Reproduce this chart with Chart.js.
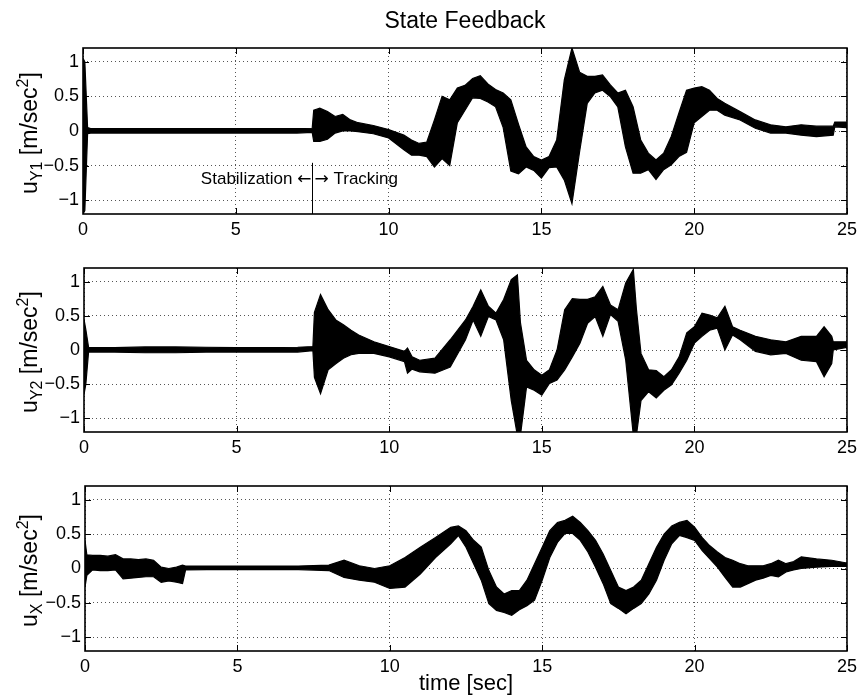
<!DOCTYPE html>
<html>
<head>
<meta charset="utf-8">
<script src="https://cdn.jsdelivr.net/npm/chart.js@4.4.0/dist/chart.umd.min.js"></script>
<style>
  html, body { margin: 0; padding: 0; background: #fff; }
  #wrap { position: relative; width: 862px; height: 699px; overflow: hidden; }
  canvas { position: absolute; left: 0; }
</style>
</head>
<body>
<div id="wrap">
  <canvas id="c1" width="862" height="240" style="top:0px"></canvas>
  <canvas id="c2" width="862" height="220" style="top:240px"></canvas>
  <canvas id="c3" width="862" height="239" style="top:460px"></canvas>
</div>
<script>
// ticks
const xTicks = [0, 5, 10, 15, 20, 25];
const yTicks = [-1, -0.5, 0, 0.5, 1];

// u_Y1 : upper / lower edge of the noisy trace
const tY1 = [0, 0.06, 0.15, 0.25, 1, 2, 3, 4, 5, 6, 7, 7.5, 7.55, 7.75, 8, 8.25, 8.5, 8.75, 9, 9.5, 10,
  10.5, 10.75, 11, 11.25, 11.5, 11.75, 12, 12.25, 12.5, 12.75, 13, 13.25, 13.5, 13.75, 14, 14.25, 14.5, 14.75,
  15, 15.25, 15.5, 15.75, 16, 16.25, 16.5, 16.75, 17, 17.25, 17.5, 17.75, 18, 18.25, 18.5, 18.75, 19, 19.25,
  19.5, 19.75, 20, 20.25, 20.5, 20.75, 21, 21.5, 22, 22.5, 23, 23.5, 24, 24.55, 24.6, 25];
const upY1 = [1.05, 1.0, 0.05, 0.035, 0.035, 0.035, 0.035, 0.035, 0.035, 0.035, 0.035, 0.04, 0.3, 0.33, 0.28, 0.21, 0.24, 0.16, 0.12, 0.08, 0.02,
  -0.06, -0.13, -0.18, -0.16, 0.16, 0.5, 0.45, 0.62, 0.66, 0.76, 0.8, 0.68, 0.6, 0.55, 0.45, 0.1, -0.23, -0.37,
  -0.42, -0.37, -0.13, 0.74, 1.2, 0.85, 0.79, 0.79, 0.81, 0.67, 0.55, 0.59, 0.35, -0.13, -0.32, -0.42, -0.32, -0.08,
  0.26, 0.59, 0.62, 0.64, 0.59, 0.47, 0.4, 0.28, 0.16, 0.09, 0.06, 0.09, 0.07, 0.07, 0.13, 0.13];
const loY1 = [-1.2, -1.15, -0.04, -0.03, -0.03, -0.03, -0.03, -0.03, -0.03, -0.03, -0.03, -0.02, -0.15, -0.15, -0.12, -0.03, 0.0, 0.0, -0.01, -0.04, -0.1,
  -0.27, -0.35, -0.35, -0.37, -0.52, -0.4, -0.5, 0.12, 0.3, 0.48, 0.47, 0.42, 0.35, 0.05, -0.58, -0.62, -0.52, -0.57,
  -0.68, -0.53, -0.52, -0.71, -1.05, -0.3, 0.4, 0.55, 0.59, 0.5, 0.35, -0.23, -0.61, -0.61, -0.56, -0.7, -0.56, -0.49,
  -0.37, -0.31, 0.12, 0.21, 0.3, 0.3, 0.23, 0.16, 0.04, -0.03, -0.03, -0.06, -0.08, -0.06, 0.06, 0.05];

// u_Y2
const tY2 = [0, 0.06, 0.15, 0.25, 1, 2, 3, 4, 5, 6, 7, 7.5, 7.55, 7.75, 8, 8.25, 8.5, 8.75, 9, 9.5, 10,
  10.5, 10.6, 10.75, 11, 11.5, 12, 12.5, 12.75, 13, 13.25, 13.5, 13.75, 14, 14.2, 14.3, 14.5, 14.75,
  15, 15.25, 15.5, 15.75, 16, 16.25, 16.5, 16.75, 17, 17.25, 17.5, 17.75, 18, 18.1, 18.25, 18.5, 18.75, 19, 19.25,
  19.5, 19.75, 20, 20.25, 20.5, 20.75, 21, 21.25, 21.5, 22, 22.5, 23, 23.5, 24, 24.25, 24.5, 24.55, 25];
const upY2 = [0.45, 0.3, 0.04, 0.035, 0.035, 0.045, 0.045, 0.04, 0.035, 0.035, 0.04, 0.05, 0.55, 0.81, 0.59, 0.44, 0.37, 0.29, 0.22, 0.12, 0.05,
  -0.02, 0.03, -0.1, -0.15, -0.12, 0.15, 0.44, 0.64, 0.88, 0.64, 0.54, 0.74, 1.03, 1.1, 0.4, -0.15, -0.29,
  -0.37, -0.29, 0.0, 0.59, 0.75, 0.74, 0.74, 0.78, 0.93, 0.66, 0.59, 0.98, 1.18, 0.6, -0.05, -0.29, -0.3, -0.39, -0.29,
  -0.1, 0.25, 0.34, 0.54, 0.51, 0.47, 0.64, 0.34, 0.29, 0.2, 0.15, 0.12, 0.2, 0.2, 0.34, 0.2, 0.12, 0.12];
const loY2 = [-0.65, -0.5, -0.03, -0.03, -0.03, -0.04, -0.04, -0.03, -0.03, -0.03, -0.03, -0.01, -0.4, -0.64, -0.29, -0.2, -0.12, -0.07, -0.05, -0.05, -0.1,
  -0.17, -0.34, -0.28, -0.32, -0.34, -0.25, 0.15, 0.44, 0.2, 0.49, 0.44, 0.15, -0.74, -1.25, -1.25, -0.54, -0.59,
  -0.66, -0.49, -0.44, -0.29, -0.1, 0.1, 0.39, 0.49, 0.2, 0.52, 0.42, -0.15, -1.25, -1.25, -0.74, -0.61, -0.7, -0.59, -0.51,
  -0.34, -0.15, 0.1, 0.2, 0.29, 0.32, 0.0, 0.22, 0.15, -0.02, -0.07, -0.05, -0.15, -0.17, -0.39, -0.2, 0.0, 0.04];

// u_X
const tX = [0, 0.06, 0.25, 0.5, 0.75, 1, 1.25, 1.5, 1.75, 2, 2.25, 2.5, 2.75, 3, 3.2, 3.3, 4, 5, 6, 7,
  8, 8.5, 9, 9.5, 10, 10.5, 11, 11.5, 12, 12.25, 12.5, 12.75, 13, 13.25, 13.5, 13.75, 14, 14.25, 14.5, 14.75,
  15, 15.25, 15.5, 15.75, 16, 16.25, 16.5, 16.75, 17, 17.25, 17.5, 17.75, 18, 18.25, 18.5, 18.75, 19, 19.25,
  19.5, 19.75, 20, 20.25, 20.5, 20.75, 21, 21.25, 21.5, 21.75, 22, 22.25, 22.5, 22.75, 23, 23.25, 23.5, 24, 24.5, 25];
const upX = [0.41, 0.2, 0.19, 0.19, 0.18, 0.2, 0.14, 0.14, 0.13, 0.14, 0.12, 0.02, 0.0, 0.02, 0.05, 0.035, 0.035, 0.035, 0.035, 0.035,
  0.05, 0.12, 0.04, 0.0, 0.04, 0.16, 0.31, 0.45, 0.6, 0.62, 0.55, 0.41, 0.31, -0.03, -0.27, -0.37, -0.32, -0.32, -0.17, 0.07,
  0.31, 0.55, 0.67, 0.7, 0.76, 0.67, 0.55, 0.41, 0.21, -0.03, -0.27, -0.32, -0.27, -0.17, 0.07, 0.31, 0.5, 0.62,
  0.67, 0.7, 0.6, 0.45, 0.33, 0.24, 0.16, 0.12, 0.07, 0.04, 0.04, 0.04, 0.07, 0.12, 0.07, 0.1, 0.17, 0.14, 0.12, 0.08];
const loX = [-0.27, -0.1, -0.02, -0.03, -0.03, -0.02, -0.15, -0.14, -0.13, -0.12, -0.12, -0.2, -0.18, -0.2, -0.22, -0.02, -0.015, -0.015, -0.015, -0.015,
  -0.03, -0.13, -0.17, -0.2, -0.29, -0.27, -0.08, 0.16, 0.36, 0.48, 0.31, 0.07, -0.17, -0.51, -0.61, -0.64, -0.68, -0.6, -0.54, -0.46,
  -0.17, 0.16, 0.38, 0.51, 0.51, 0.41, 0.24, 0.02, -0.22, -0.51, -0.58, -0.66, -0.58, -0.51, -0.37, -0.17, 0.12, 0.36,
  0.48, 0.45, 0.41, 0.26, 0.14, 0.02, -0.13, -0.27, -0.27, -0.22, -0.17, -0.14, -0.1, -0.12, -0.05, -0.02, 0.0, 0.02, 0.03, 0.03];

// annotation on the first panel
const switchTime = 7.5;
const switchTop = -0.46;
const switchTextY = -0.7;

const FONT = '"Liberation Sans", Arial, Helvetica, sans-serif';
const ARROW_FONT = '"DejaVu Sans", sans-serif';

// box + inward tick marks, MATLAB style
const framePlugin = {
  id: 'frame',
  afterDatasetsDraw(chart) {
    const { ctx, chartArea: a, scales: { x, y } } = chart;
    ctx.save();
    ctx.strokeStyle = '#000';
    ctx.lineWidth = 1;
    ctx.beginPath();
    xTicks.forEach(v => {
      const px = Math.round(x.getPixelForValue(v)) + 0.5;
      ctx.moveTo(px, a.bottom); ctx.lineTo(px, a.bottom - 6);
      ctx.moveTo(px, a.top); ctx.lineTo(px, a.top + 6);
    });
    yTicks.forEach(v => {
      const py = Math.round(y.getPixelForValue(v)) + 0.5;
      ctx.moveTo(a.left, py); ctx.lineTo(a.left + 6, py);
      ctx.moveTo(a.right, py); ctx.lineTo(a.right - 6, py);
    });
    ctx.stroke();
    ctx.lineWidth = 1.6;
    ctx.strokeRect(a.left, a.top, a.right - a.left, a.bottom - a.top);
    ctx.restore();
  }
};

// rotated y label with sub/superscripts; parts = [text, size, shift]
function drawYLabel(ctx, parts, bx, cy) {
  ctx.save();
  ctx.translate(bx, cy);
  ctx.rotate(-Math.PI / 2);
  ctx.fillStyle = '#000';
  ctx.textBaseline = 'alphabetic';
  ctx.textAlign = 'left';
  let w = 0;
  parts.forEach(p => { ctx.font = p[1] + 'px ' + FONT; w += ctx.measureText(p[0]).width; });
  let pos = -w / 2;
  parts.forEach(p => {
    ctx.font = p[1] + 'px ' + FONT;
    ctx.fillText(p[0], pos, p[2]);
    pos += ctx.measureText(p[0]).width;
  });
  ctx.restore();
}

function labelPlugin(parts, extra) {
  return {
    id: 'labels',
    afterDraw(chart) {
      const { ctx, chartArea: a } = chart;
      drawYLabel(ctx, parts, 37, (a.top + a.bottom) / 2 + 2);
      if (extra) extra(chart);
    }
  };
}

const minus = v => (v < 0 ? '\u2212' + Math.abs(v) : String(v));

function panel(id, t, up, lo, o) {
  const pts = arr => arr.map((v, i) => ({ x: t[i], y: v }));
  return new Chart(document.getElementById(id), {
    type: 'line',
    data: {
      datasets: [
        { data: pts(up), borderColor: '#000', backgroundColor: '#000', borderWidth: 1.2, fill: '+1', pointRadius: 0, tension: 0 },
        { data: pts(lo), borderColor: '#000', backgroundColor: '#000', borderWidth: 1.2, fill: false, pointRadius: 0, tension: 0 }
      ]
    },
    options: {
      responsive: false,
      animation: false,
      devicePixelRatio: 1,
      layout: { padding: { left: 0, right: o.padRight, top: o.padTop, bottom: 0 } },
      plugins: { legend: { display: false }, tooltip: { enabled: false }, title: { display: false } },
      scales: {
        x: {
          type: 'linear', min: 0, max: 25,
          afterBuildTicks: s => { s.ticks = xTicks.map(v => ({ value: v })); },
          afterFit: s => { s.height = o.xHeight; },
          grid: { color: '#555', lineWidth: 1, drawTicks: false },
          border: { display: false, dash: [1, 3] },
          ticks: { color: '#000', font: { family: FONT, size: 18 }, padding: 5, maxRotation: 0, autoSkip: false }
        },
        y: {
          type: 'linear', min: -1.2, max: 1.2,
          afterBuildTicks: s => { s.ticks = yTicks.map(v => ({ value: v })); },
          afterFit: s => { s.width = o.yWidth; },
          grid: { color: '#555', lineWidth: 1, drawTicks: false },
          border: { display: false, dash: [1, 3] },
          ticks: { color: '#000', font: { family: FONT, size: 18 }, padding: 4, callback: minus }
        }
      }
    },
    plugins: [framePlugin, labelPlugin(o.label, o.extra)]
  });
}

panel('c1', tY1, upY1, loY1, {
  padTop: 48, padRight: 14, xHeight: 26, yWidth: 83,
  label: [['u', 23, 0], ['Y1', 16, 5], [' [m/sec', 23, 0], ['2', 16, -9], [']', 23, 0]],
  extra(chart) {
    const { ctx, chartArea: a, scales: { x, y } } = chart;
    ctx.save();
    ctx.fillStyle = '#000';
    ctx.font = '23px ' + FONT;
    ctx.textAlign = 'center';
    ctx.textBaseline = 'middle';
    ctx.fillText('State Feedback', (a.left + a.right) / 2, 22);
    const sx = Math.round(x.getPixelForValue(switchTime)) + 0.5;
    ctx.strokeStyle = '#000';
    ctx.lineWidth = 1;
    ctx.beginPath();
    ctx.moveTo(sx, y.getPixelForValue(switchTop));
    ctx.lineTo(sx, a.bottom);
    ctx.stroke();
    const ty = y.getPixelForValue(switchTextY);
    // left part: "Stabilization ←"
    ctx.font = '17px ' + ARROW_FONT;
    ctx.textAlign = 'right';
    ctx.fillText('\u2190', sx - 1, ty);
    const aw = ctx.measureText('\u2190').width;
    ctx.font = '17px ' + FONT;
    ctx.fillText('Stabilization ', sx - 1 - aw, ty);
    // right part: "→ Tracking"
    ctx.font = '17px ' + ARROW_FONT;
    ctx.textAlign = 'left';
    ctx.fillText('\u2192', sx + 2, ty);
    const bw = ctx.measureText('\u2192').width;
    ctx.font = '17px ' + FONT;
    ctx.fillText(' Tracking', sx + 2 + bw, ty);
    ctx.restore();
  }
});

panel('c2', tY2, upY2, loY2, {
  padTop: 28, padRight: 13, xHeight: 28, yWidth: 84,
  label: [['u', 23, 0], ['Y2', 16, 5], [' [m/sec', 23, 0], ['2', 16, -9], [']', 23, 0]]
});

panel('c3', tX, upX, loX, {
  padTop: 26, padRight: 12, xHeight: 48, yWidth: 85,
  label: [['u', 23, 0], ['X', 16, 5], [' [m/sec', 23, 0], ['2', 16, -9], [']', 23, 0]],
  extra(chart) {
    const { ctx, chartArea: a } = chart;
    ctx.save();
    ctx.fillStyle = '#000';
    ctx.font = '22px ' + FONT;
    ctx.textAlign = 'center';
    ctx.textBaseline = 'middle';
    ctx.fillText('time [sec]', (a.left + a.right) / 2, 224);
    ctx.restore();
  }
});
</script>
</body>
</html>
